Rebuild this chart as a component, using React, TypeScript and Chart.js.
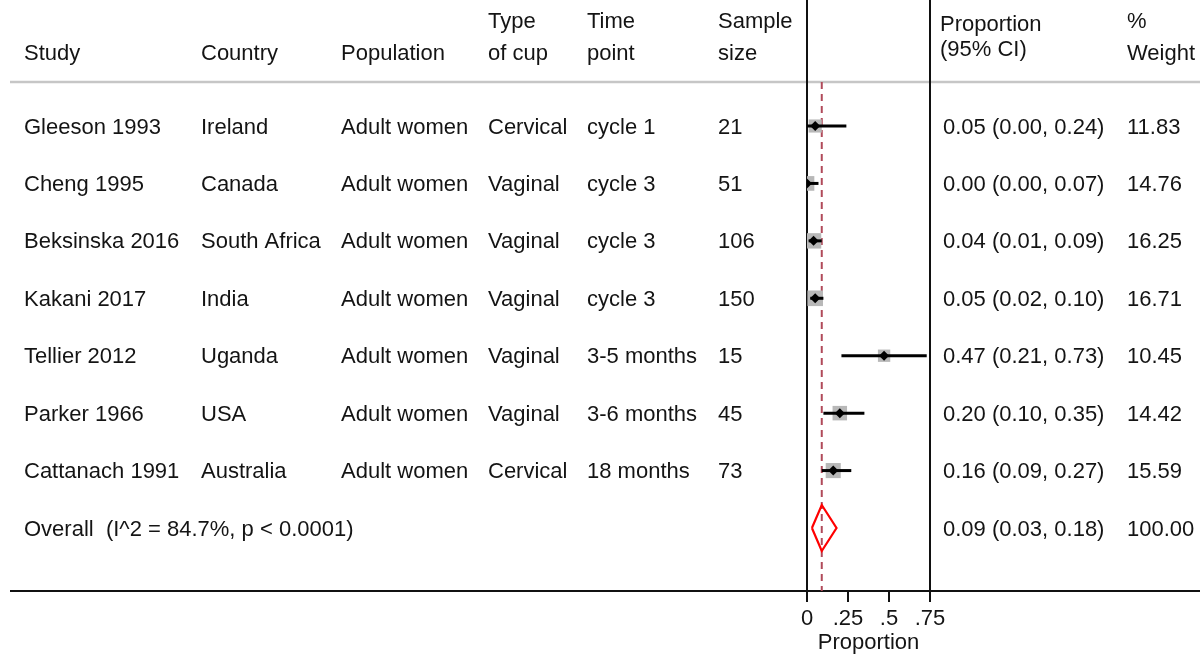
import React, { useEffect, useRef } from "react";
import { Chart, registerables } from "chart.js";

Chart.register(...registerables);

// Study-level data
const studies = ["Gleeson 1993", "Cheng 1995", "Beksinska 2016", "Kakani 2017", "Tellier 2012", "Parker 1966", "Cattanach 1991"];
const countries = ["Ireland", "Canada", "South Africa", "India", "Uganda", "USA", "Australia"];
const populations = ["Adult women", "Adult women", "Adult women", "Adult women", "Adult women", "Adult women", "Adult women"];
const cupTypes = ["Cervical", "Vaginal", "Vaginal", "Vaginal", "Vaginal", "Vaginal", "Cervical"];
const timePoints = ["cycle 1", "cycle 3", "cycle 3", "cycle 3", "3-5 months", "3-6 months", "18 months"];
const sampleSizes = [21, 51, 106, 150, 15, 45, 73];
const estimates = [0.05, 0.0, 0.04, 0.05, 0.47, 0.2, 0.16];
const lowerCI = [0.0, 0.0, 0.01, 0.02, 0.21, 0.1, 0.09];
const upperCI = [0.24, 0.07, 0.09, 0.1, 0.73, 0.35, 0.27];
const weights = [11.83, 14.76, 16.25, 16.71, 10.45, 14.42, 15.59];

// Pooled estimate
const overallLabel = "Overall  (I^2 = 84.7%, p < 0.0001)";
const overallEst = 0.09;
const overallLo = 0.03;
const overallHi = 0.18;
const overallWeight = "100.00";

// Axis
const xTicks = [0, 0.25, 0.5, 0.75];
const xTickLabels = ["0", ".25", ".5", ".75"];
const xTitle = "Proportion";

// Row coordinate system (row index on a reversed linear scale)
const Y_MIN = -2.194;
const Y_MAX = 8.097;
const HEADER_RULE = -0.766;
const OVERALL_ROW = studies.length;
const DIAMOND_HALF = 0.4;

const FONT = '"Liberation Sans", Arial, sans-serif';
const TEXT = "#141414";
const FONT_SIZE = 22;
const TEXT_NUDGE = 1.5;

const fmt = (v: number) => v.toFixed(2);

const tablePlugin = {
  id: "forestTable",
  beforeDatasetsDraw(chart: any) {
    const { ctx, scales } = chart;
    const x = scales.x;
    const y = scales.y;
    const bottom = chart.chartArea.bottom;
    ctx.save();
    // header rule
    ctx.strokeStyle = "#c6c6c6";
    ctx.lineWidth = 2.5;
    ctx.beginPath();
    ctx.moveTo(10, y.getPixelForValue(HEADER_RULE));
    ctx.lineTo(1200, y.getPixelForValue(HEADER_RULE));
    ctx.stroke();
    // bottom rule
    ctx.strokeStyle = "#111";
    ctx.lineWidth = 2;
    ctx.beginPath();
    ctx.moveTo(10, bottom);
    ctx.lineTo(1200, bottom);
    ctx.stroke();
    // plot frame verticals
    ctx.beginPath();
    const x0 = Math.round(x.getPixelForValue(0));
    const x1 = Math.round(x.getPixelForValue(xTicks[xTicks.length - 1]));
    ctx.moveTo(x0, 0);
    ctx.lineTo(x0, bottom);
    ctx.moveTo(x1, 0);
    ctx.lineTo(x1, bottom);
    ctx.stroke();
    ctx.restore();
  },
  afterDraw(chart: any) {
    const { ctx, scales } = chart;
    const y = scales.y;
    ctx.save();
    ctx.fillStyle = TEXT;
    ctx.font = `${FONT_SIZE}px ${FONT}`;
    ctx.textBaseline = "middle";
    ctx.textAlign = "left";

    const cols = [24, 201, 341, 488, 587, 718];
    const ciX = 943;
    const wX = 1127;
    const t = (s: string, px: number, py: number) => ctx.fillText(s, px, py + TEXT_NUDGE);

    // headers
    t("Study", cols[0], 52);
    t("Country", cols[1], 52);
    t("Population", cols[2], 52);
    t("Type", cols[3], 20);
    t("of cup", cols[3], 52);
    t("Time", cols[4], 20);
    t("point", cols[4], 52);
    t("Sample", cols[5], 20);
    t("size", cols[5], 52);
    t("Proportion", 940, 23);
    t("(95% CI)", 940, 48);
    t("%", wX, 20);
    t("Weight", wX, 52);

    studies.forEach((s, i) => {
      const py = y.getPixelForValue(i);
      t(s, cols[0], py);
      t(countries[i], cols[1], py);
      t(populations[i], cols[2], py);
      t(cupTypes[i], cols[3], py);
      t(timePoints[i], cols[4], py);
      t(String(sampleSizes[i]), cols[5], py);
      t(`${fmt(estimates[i])} (${fmt(lowerCI[i])}, ${fmt(upperCI[i])})`, ciX, py);
      t(weights[i].toFixed(2), wX, py);
    });
    const oy = y.getPixelForValue(OVERALL_ROW);
    t(overallLabel, cols[0], oy);
    t(`${fmt(overallEst)} (${fmt(overallLo)}, ${fmt(overallHi)})`, ciX, oy);
    t(overallWeight, wX, oy);
    ctx.restore();
  },
};

export default function App() {
  const ref = useRef<HTMLCanvasElement | null>(null);

  useEffect(() => {
    if (!ref.current) return;

    const ciLines = studies.map((_, i) => ({
      type: "scatter" as const,
      showLine: true,
      data: [
        { x: lowerCI[i], y: i },
        { x: upperCI[i], y: i },
      ],
      borderColor: "#000",
      borderWidth: 3,
      pointRadius: 0,
    }));

    const chart = new Chart(ref.current, {
      type: "scatter",
      data: {
        datasets: [
          {
            data: estimates.map((v, i) => ({ x: v, y: i })),
            pointStyle: "rectRot",
            pointRadius: 5,
            backgroundColor: "#000",
            borderColor: "#000",
            borderWidth: 0,
          },
          ...ciLines,
          {
            data: estimates.map((v, i) => ({ x: v, y: i })),
            pointStyle: "rect",
            pointRadius: weights.map((w) => 2.7 * Math.sqrt(w)),
            backgroundColor: "#b8b8b8",
            borderWidth: 0,
          },
          {
            showLine: true,
            data: [
              { x: overallLo, y: OVERALL_ROW },
              { x: overallEst, y: OVERALL_ROW - DIAMOND_HALF },
              { x: overallHi, y: OVERALL_ROW },
              { x: overallEst, y: OVERALL_ROW + DIAMOND_HALF },
              { x: overallLo, y: OVERALL_ROW },
            ],
            borderColor: "#ff0000",
            borderWidth: 2.2,
            pointRadius: 0,
            tension: 0,
          },
          {
            showLine: true,
            data: [
              { x: overallEst, y: HEADER_RULE },
              { x: overallEst, y: Y_MAX },
            ],
            borderColor: "#b04a5a",
            borderWidth: 2,
            borderDash: [7, 5],
            pointRadius: 0,
          },
        ] as any,
      },
      options: {
        animation: false,
        responsive: false,
        maintainAspectRatio: false,
        events: [],
        layout: { autoPadding: false, padding: { left: 807, right: 270, top: 0, bottom: 0 } },
        plugins: { legend: { display: false }, tooltip: { enabled: false } },
        scales: {
          x: {
            type: "linear",
            min: xTicks[0],
            max: xTicks[xTicks.length - 1],
            afterFit: (scale: any) => {
              scale.height = 64;
            },
            afterBuildTicks: (scale: any) => {
              scale.ticks = xTicks.map((v) => ({ value: v }));
            },
            ticks: {
              autoSkip: false,
              maxRotation: 0,
              padding: 4,
              color: TEXT,
              font: { family: FONT, size: FONT_SIZE },
              callback: (v: any) => {
                const i = xTicks.indexOf(Number(v));
                return i >= 0 ? xTickLabels[i] : "";
              },
            },
            grid: {
              drawOnChartArea: false,
              drawTicks: true,
              tickLength: 11,
              color: "#111",
              lineWidth: 2,
            },
            border: { display: false },
            title: {
              display: true,
              text: xTitle,
              color: TEXT,
              font: { family: FONT, size: FONT_SIZE },
              padding: { top: 0, bottom: -1 },
            },
          },
          y: {
            type: "linear",
            display: false,
            reverse: true,
            min: Y_MIN,
            max: Y_MAX,
          },
        },
      },
      plugins: [tablePlugin],
    });

    return () => chart.destroy();
  }, []);

  return (
    <div style={{ position: "fixed", left: 0, top: 0, width: 1200, height: 655, background: "#fff" }}>
      <canvas ref={ref} width={1200} height={655} style={{ width: 1200, height: 655, display: "block" }} />
    </div>
  );
}
